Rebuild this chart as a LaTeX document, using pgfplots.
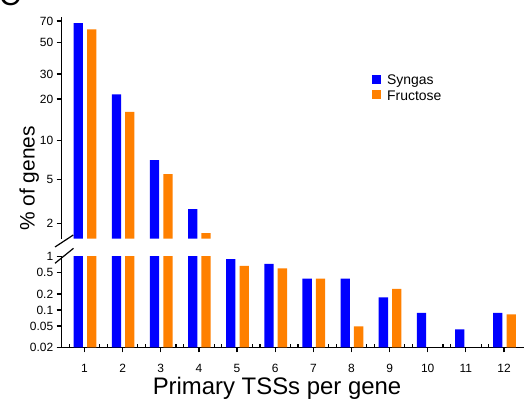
\documentclass[border=0pt]{standalone}
\usepackage{fontspec}
\setmainfont{Liberation Sans}
\usepackage{pgfplots}
\pgfplotsset{compat=1.18}
\usepackage{pgfplotstable}
\definecolor{sblue}{RGB}{0,0,255}
\definecolor{forange}{RGB}{255,128,0}

% upper panel: values above 1.37
\pgfplotstableread{
x y
1 67.6
2 21.6
3 7.1
4 2.76
}\syngasup
\pgfplotstableread{
x y
1 61.4
2 16.2
3 5.5
4 1.59
}\fructoseup
% full series
\pgfplotstableread{
x y
1 67.6
2 21.6
3 7.1
4 2.76
5 0.905
6 0.73
7 0.387
8 0.387
9 0.173
10 0.088
11 0.0436
12 0.088
}\syngas
\pgfplotstableread{
x y
1 61.4
2 16.2
3 5.5
4 1.59
5 0.67
6 0.606
7 0.387
8 0.0495
9 0.248
12 0.083
}\fructose

\pgfplotsset{
  brk/.style={
    scale only axis, width=462.3bp,
    xmin=0.402, xmax=12.524,
    ybar, bar width=0.244,
    axis line style={line width=1.2bp},
    tick style={line width=1.2bp, black},
    major tick length=5bp,
    tick align=outside,
    tick label style={font=\fontsize{12}{14}\selectfont},
    /pgf/number format/assume math mode=true,
    yminorticks=false, xminorticks=false,
  }
}

\begin{document}
\begin{tikzpicture}
\useasboundingbox (0bp,0bp) rectangle (524bp,404bp);

% upper panel
\begin{axis}[brk, at={(61.7bp,165.3bp)}, anchor=south west, height=221.2bp,
  axis x line=none, axis y line*=left,
  y coord trafo/.code={\pgfmathparse{log10(#1+1)}},
  y coord inv trafo/.code={\pgfmathparse{10^(#1)-1}},
  ymin=1.37, ymax=74,
  ytick={2,5,10,20,30,50,70}, yticklabels={2,5,10,20,30,50,70},
  xtick=\empty,
  legend image code/.code={\fill[#1] (0bp,-3.4bp) rectangle (9.5bp,6.1bp);},
  legend style={at={(0.670,0.749)}, anchor=north west, draw=none, fill=none,
    font=\fontsize{14}{16}\selectfont, row sep=0pt, inner sep=0pt,
    column sep=4bp, cells={anchor=west}},
]
\addplot[fill=sblue, draw=none, bar shift=-0.163] table {\syngasup};
\addlegendentry{Syngas}
\addplot[fill=forange, draw=none, bar shift=0.188] table {\fructoseup};
\addlegendentry{Fructose}
\end{axis}

% lower panel
\begin{axis}[brk, at={(61.7bp,56.7bp)}, anchor=south west, height=90.6bp,
  ymode=log, log origin y=infty, ymin=0.02, ymax=1,
  axis x line*=bottom, axis y line*=left,
  ytick={0.02,0.05,0.1,0.2,0.5,1}, yticklabels={0.02,0.05,0.1,0.2,0.5,1},
  xtick={1,2,3,4,5,6,7,8,9,10,11,12},
  xticklabels={1,2,3,4,5,6,7,8,9,10,11,12},
  xticklabel style={yshift=-8bp},
  extra x ticks={0.6,1.4,1.6,2.4,2.6,3.4,3.6,4.4,4.6,5.4,5.6,6.4,6.6,7.4,7.6,8.4,8.6,9.4,9.6,10.4,10.6,11.4,11.6},
  extra x tick labels={},
  extra x tick style={tick align=inside, major tick length=3bp},
]
\addplot[fill=sblue, draw=none, bar shift=-0.163] table {\syngas};
\addplot[fill=forange, draw=none, bar shift=0.188] table {\fructose};
\end{axis}

% axis break marks
\draw[line width=1.2bp] (55bp,157bp) -- (73.3bp,169bp);
\draw[line width=1.2bp] (55bp,140.7bp) -- (73.5bp,155.7bp);

% labels
\node[rotate=90, anchor=base, font=\fontsize{21}{24}\selectfont] at (34.5bp,225.5bp) {\% of genes};
\node[anchor=base, font=\fontsize{24}{28}\selectfont] at (277bp,10bp) {Primary TSSs per gene};
\node[anchor=base west, font=\fontsize{30}{34}\selectfont, inner sep=0pt] at (-1bp,398.4bp) {C};
\end{tikzpicture}
\end{document}
